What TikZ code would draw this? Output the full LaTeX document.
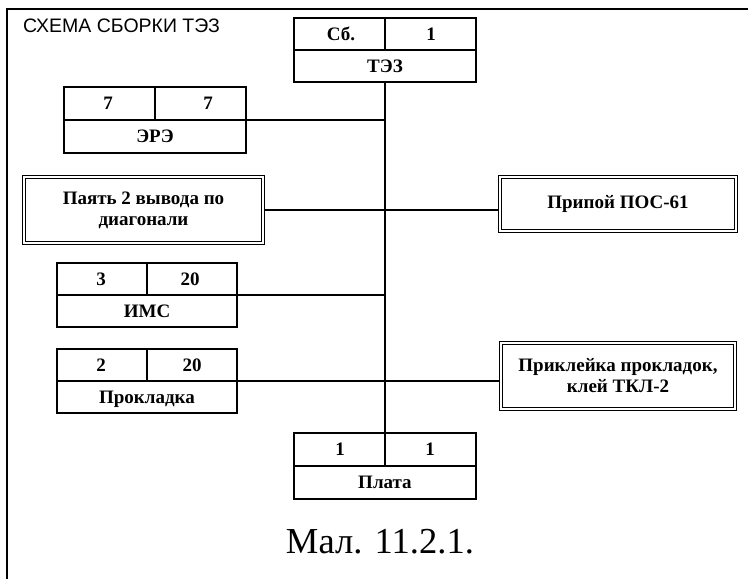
\documentclass[tikz,border=0pt]{standalone}
\usepackage{fontspec}
\setmainfont{Liberation Serif}
\newfontfamily\titlefont{Liberation Sans}
\usetikzlibrary{calc}
\begin{document}
\begin{tikzpicture}[x=1pt,y=-1pt,
  boxline/.style={line width=1.5pt},
  splitbox/.style={draw, boxline, inner sep=0pt, outer sep=0pt},
  boxfont/.style={font=\bfseries\fontsize{19}{21}\selectfont},
  dblbox/.style={draw, line width=1.3pt, double, double distance=2.2pt, inner sep=0pt, outer sep=2.4pt, boxfont, align=center},
  lbl/.style={inner sep=0pt, boxfont, text height=12.5pt, text depth=0pt},
  conn/.style={line width=1.5pt},
  frame/.style={line width=2pt}]
\useasboundingbox (0,0) rectangle (748,579);
\fill[white] (0,0) rectangle (748,579);
\draw[frame] (748,9) -- (7,9) -- (7,579);

\node[anchor=base west, inner sep=0pt, font=\titlefont\fontsize{19.5}{21}\selectfont] (title) at (23,32) {СХЕМА СБОРКИ ТЭЗ};

% ТЭЗ
\node[splitbox, minimum width=182pt, minimum height=64pt] (tez) at (385,50) {};
\draw[boxline] (tez.west) -- (tez.east);
\draw[boxline] (tez.north) -- (tez.center);
\node[lbl] (tez-a) at (341,34) {Сб.};
\node[lbl] (tez-b) at (431,34) {1};
\node[lbl] (tez-c) at (385,66) {ТЭЗ};

% ЭРЭ
\node[splitbox, minimum width=182pt, minimum height=66pt] (ere) at (155,120) {};
\draw[boxline] (ere.west) -- (ere.east);
\draw[boxline] (ere.north) -- (ere.center);
\node[lbl] (ere-a) at (108,103.5) {7};
\node[lbl] (ere-b) at (208,103.5) {7};
\node[lbl] (ere-c) at (155,136.5) {ЭРЭ};

% ИМС
\node[splitbox, minimum width=180pt, minimum height=64pt] (ims) at (147,295) {};
\draw[boxline] (ims.west) -- (ims.east);
\draw[boxline] (ims.north) -- (ims.center);
\node[lbl] (ims-a) at (101,279) {3};
\node[lbl] (ims-b) at (190,279) {20};
\node[lbl] (ims-c) at (147,311) {ИМС};

% Прокладка
\node[splitbox, minimum width=180pt, minimum height=64pt] (prokl) at (147,381) {};
\draw[boxline] (prokl.west) -- (prokl.east);
\draw[boxline] (prokl.north) -- (prokl.center);
\node[lbl] (prokl-a) at (101,365) {2};
\node[lbl] (prokl-b) at (192,365) {20};
\node[lbl] (prokl-c) at (147,397) {Прокладка};

% Плата
\node[splitbox, minimum width=182pt, minimum height=66pt] (plata) at (385,466) {};
\draw[boxline] (plata.west) -- (plata.east);
\draw[boxline] (plata.north) -- (plata.center);
\node[lbl] (plata-a) at (340,449.5) {1};
\node[lbl] (plata-b) at (430,449.5) {1};
\node[lbl] (plata-c) at (385,482.5) {Плата};

% double boxes
\node[dblbox, minimum width=239pt, minimum height=66pt] (payat) at (143.5,210) {Паять 2 вывода по\\диагонали};
\node[dblbox, minimum width=236pt, minimum height=54pt] (pripoy) at (618,204) {Припой ПОС-61};
\node[dblbox, minimum width=234pt, minimum height=66pt] (prikl) at (618,376) {Приклейка прокладок,\\клей ТКЛ-2};

% connectors
\draw[conn] (tez.south) -- (plata.north);
\draw[conn] (ere.east) -- (ere.east -| tez.south);
\draw[conn] (payat.east) -- (payat.east -| pripoy.west);
\draw[conn] (ims.east) -- (ims.east -| tez.south);
\draw[conn] (prokl.east) -- (prokl.east -| prikl.west);

\node[anchor=base, inner sep=0pt, font=\fontsize{36.6}{40}\selectfont] (caption) at (380,553) {Мал. 11.2.1.};
\end{tikzpicture}
\end{document}
